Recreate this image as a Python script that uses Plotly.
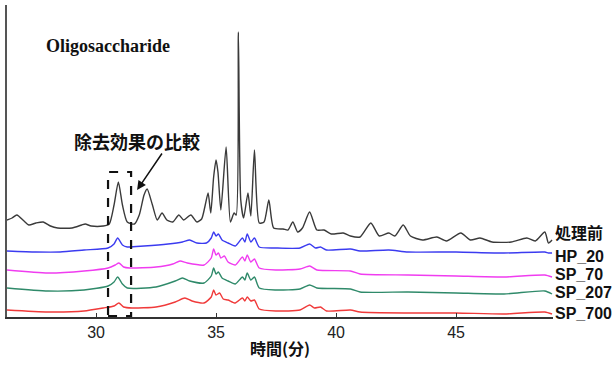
import plotly.graph_objects as go

# ---- data (time in minutes, relative signal) ----
t_raw = [26.29, 26.5, 26.7, 27.0, 27.2, 27.5, 27.8, 28.1, 28.4, 29.0, 29.4, 29.55, 29.8, 30.3, 30.55,
         30.75, 30.93, 31.1, 31.3, 31.6, 31.8, 32.0, 32.13, 32.35, 32.55, 32.75, 32.95, 33.2, 33.45,
         33.65, 33.95, 34.2, 34.4, 34.55, 34.67, 34.78, 34.9, 35.0, 35.08, 35.2, 35.42, 35.6, 35.75,
         35.84, 35.93, 36.03, 36.15, 36.33, 36.45, 36.6, 36.8, 37.0, 37.2, 37.4, 37.8, 38.0, 38.2,
         38.4, 38.6, 38.9, 39.2, 39.5, 39.8, 40.3, 40.6, 41.0, 41.45, 41.8, 42.2, 42.45, 42.8, 43.1,
         43.6, 44.2, 44.6, 45.2, 45.6, 46.0, 46.5, 47.3, 47.95, 48.3, 48.7, 48.85, 49.0]
raw = [97, 99, 102, 96, 92, 94, 95, 91, 89, 89, 92, 93, 91, 91, 93,
       112, 135, 112, 95, 93, 102, 122, 128, 112, 97, 104, 97, 95, 102,
       97, 102, 95, 98, 112, 124, 104, 140, 157, 145, 107, 170, 95, 104,
       102, 285, 117, 99, 124, 101, 167, 94, 95, 117, 89, 88, 87, 95,
       85, 89, 105, 87, 87, 83, 84, 81, 80, 94, 81, 84, 81, 92, 81,
       77, 80, 76, 84, 77, 79, 75, 75, 79, 76, 85, 74, 77]

t_hp20 = [26.29, 27.5, 28.5, 29.5, 30.5, 30.75, 30.9, 31.1, 31.3, 32.0, 33.0, 33.6, 33.9, 34.2, 34.6,
          34.8, 34.9, 35.0, 35.1, 35.25, 35.5, 35.8, 36.1, 36.2, 36.3, 36.45, 36.6, 36.8, 37.5, 38.5,
          38.9, 39.15, 39.35, 39.6, 40.6, 41.0, 42.2, 43.0, 45.0, 47.0, 48.7, 48.85, 49.0]
hp20 = [66, 65, 65, 67, 69, 73, 79, 72, 70, 71, 73, 75, 77, 74, 74,
        79, 85, 81, 83, 77, 74, 71, 79, 75, 83, 75, 79, 70, 69, 69,
        73, 69, 70, 67, 68, 66, 67, 65, 65, 64, 65, 64, 64]

t_sp70 = [26.29, 28.0, 29.5, 30.5, 30.8, 30.95, 31.15, 31.4, 32.5, 33.2, 33.5, 33.8, 34.5, 34.8, 34.9,
          35.0, 35.1, 35.2, 35.35, 35.5, 35.8, 36.1, 36.2, 36.3, 36.45, 36.6, 36.8, 37.5, 38.5, 38.9,
          39.2, 40.6, 41.0, 43.0, 45.0, 47.0, 48.7, 49.0]
sp70 = [47, 44, 46, 49, 52, 54, 50, 49, 50, 53, 56, 54, 52, 59, 68,
        62, 64, 59, 61, 55, 52, 60, 56, 62, 55, 58, 49, 47, 48, 51,
        47, 46, 43, 42, 41, 40, 42, 40]

t_sp207 = [26.29, 28.0, 29.5, 30.5, 30.75, 30.9, 31.1, 31.3, 32.5, 33.3, 33.6, 33.9, 34.5, 34.8, 34.9,
           35.0, 35.1, 35.25, 35.5, 35.8, 36.1, 36.2, 36.3, 36.45, 36.6, 36.8, 37.5, 38.5, 38.9, 39.2,
           40.6, 41.0, 43.0, 45.0, 47.0, 48.7, 49.0]
sp207 = [29, 26, 27, 31, 35, 40, 33, 29, 30, 36, 39, 36, 34, 41, 49,
         43, 45, 39, 36, 33, 40, 37, 44, 37, 40, 29, 27, 28, 32, 29,
         28, 25, 25, 24, 23, 26, 23]

t_sp700 = [26.29, 28.0, 29.5, 30.3, 30.75, 30.95, 31.15, 31.5, 32.5, 33.3, 33.7, 34.0, 34.5, 34.8, 34.9,
           35.0, 35.15, 35.3, 35.5, 35.8, 36.1, 36.2, 36.3, 36.45, 36.6, 36.8, 37.5, 38.5, 38.9, 39.1,
           39.35, 39.6, 40.6, 41.0, 43.0, 45.0, 47.0, 48.7, 49.0]
sp700 = [7, 5, 6, 9, 11, 14, 10, 9, 10, 15, 19, 16, 14, 20, 27,
         22, 24, 18, 17, 14, 19, 16, 20, 16, 17, 8, 6, 7, 12, 9,
         10, 6, 7, 5, 4, 4, 3, 5, 3]

series_names = ["処理前", "HP_20", "SP_70", "SP_207", "SP_700"]
series_t = [t_raw, t_hp20, t_sp70, t_sp207, t_sp700]
series_y = [raw, hp20, sp70, sp207, sp700]
series_colors = ["#3a3a3a", "#3b3bf0", "#f03cf0", "#2f8a6a", "#f03a3a"]
label_y = [84, 61, 43, 25, 4]

tick_vals = [30, 35, 40, 45]
tick_text = ["30", "35", "40", "45"]
x_title = "時間(分)"
chart_title = "Oligosaccharide"
callout = "除去効果の比較"
box_t = [30.5, 31.46]
box_y = [1, 145]

fig = go.Figure()
for name, tx, ty, col in zip(series_names, series_t, series_y, series_colors):
    fig.add_trace(go.Scatter(x=tx, y=ty, mode="lines", name=name,
                             line=dict(color=col, width=1.4, shape="spline", smoothing=0.6),
                             showlegend=False))

for name, ly in zip(series_names, label_y):
    fig.add_annotation(text="<b>" + name + "</b>", xref="paper", yref="y", x=1.0, y=ly,
                       xanchor="left", yanchor="middle", showarrow=False,
                       font=dict(family="Liberation Sans, Noto Sans CJK JP", size=16, color="#111"))

fig.add_annotation(text="<b>" + chart_title + "</b>", xref="paper", yref="y", x=0.067, y=271,
                   xanchor="left", yanchor="middle", showarrow=False,
                   font=dict(family="Liberation Serif, Times New Roman", size=18, color="#111"))

fig.add_annotation(text="<b>" + callout + "</b>", xref="paper", yref="y", x=0.238, y=176,
                   xanchor="center", yanchor="middle", showarrow=False,
                   font=dict(family="Noto Sans CJK JP", size=18, color="#111"))

fig.add_annotation(x=31.71, y=127, ax=32.79, ay=165, xref="x", yref="y", axref="x", ayref="y",
                   text="", showarrow=True, arrowhead=2, arrowsize=1.2, arrowwidth=1.5,
                   arrowcolor="#111")

fig.add_shape(type="rect", xref="x", yref="y", x0=box_t[0], x1=box_t[1], y0=box_y[0], y1=box_y[1],
              line=dict(color="#111", width=2.2, dash="dash"))

fig.update_layout(
    width=616, height=365,
    margin=dict(l=7, r=63, t=5, b=48),
    paper_bgcolor="white", plot_bgcolor="white",
    xaxis=dict(range=[26.29, 49.04], tickvals=tick_vals, ticktext=tick_text,
               ticks="inside", ticklen=4, tickcolor="#333", showline=True, linecolor="#333",
               linewidth=1.5, showgrid=False, zeroline=False,
               tickfont=dict(family="Liberation Sans, Arial", size=16, color="#222"),
               title=dict(text="<b>" + x_title + "</b>", standoff=4,
                          font=dict(family="Noto Sans CJK JP", size=16, color="#111"))),
    yaxis=dict(range=[0, 312], showline=True, linecolor="#555", linewidth=1.5,
               showticklabels=False, ticks="", showgrid=False, zeroline=False),
)

fig.write_html("out.html")
